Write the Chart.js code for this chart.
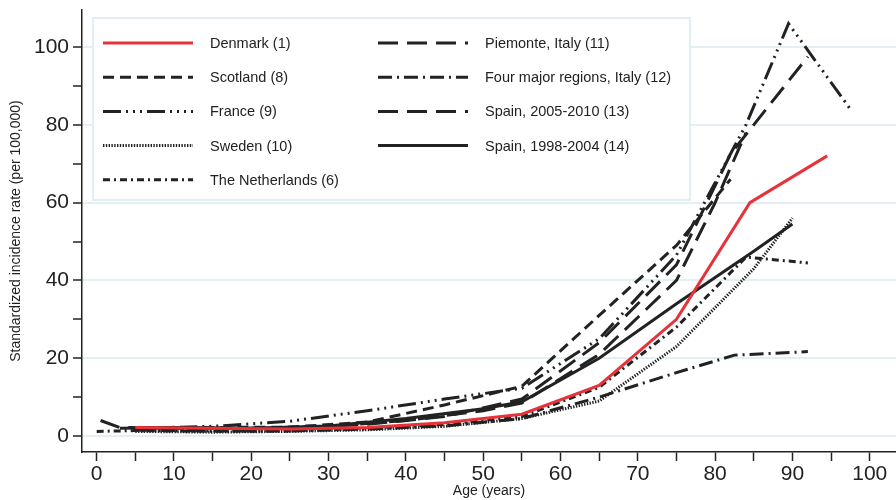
<!DOCTYPE html>
<html>
<head>
<meta charset="utf-8">
<script src="https://cdn.jsdelivr.net/npm/chart.js@4.4.0/dist/chart.umd.min.js"></script>
<style>
  html, body { margin: 0; padding: 0; background: #fff; }
</style>
</head>
<body>
<canvas id="myChart" width="896" height="500"></canvas>
<script>
// age (years) and standardized incidence rate (per 100,000) per registry
const denmarkAge = [5, 15, 25, 35, 45, 55, 65, 75, 84.5, 94.5];
const denmarkRate = [2.2, 2.0, 1.8, 2.2, 3.4, 5.6, 13, 30, 60, 72];

const scotlandAge = [5, 15, 25, 35, 45, 55, 65, 75, 82];
const scotlandRate = [2.0, 2.2, 2.3, 3.6, 8.0, 12.8, 31, 49, 66];

const franceAge = [5, 15, 25, 35, 45, 55, 65, 75, 84, 89.5, 97.5];
const franceRate = [2.0, 2.5, 3.8, 6.5, 9.5, 12.3, 25, 46.5, 80, 106, 84];

const swedenAge = [5, 15, 25, 35, 45, 55, 65, 75, 85, 90];
const swedenRate = [1.2, 1.0, 1.2, 1.6, 2.5, 4.5, 9.0, 23, 43, 56];

const netherlandsAge = [0, 5, 15, 25, 35, 45, 55, 65, 75, 84, 92];
const netherlandsRate = [1.2, 1.4, 1.2, 1.3, 2.0, 3.0, 5.0, 12.5, 28, 46, 44.5];

const piemonteAge = [5, 15, 25, 35, 45, 55, 65, 75, 82, 92];
const piemonteRate = [2.0, 2.0, 2.0, 3.0, 5.0, 9.5, 24, 44, 72.5, 97.5];

const fourRegionsAge = [5, 15, 25, 35, 45, 55, 65, 75, 82.5, 92];
const fourRegionsRate = [1.5, 1.3, 1.3, 1.8, 2.6, 4.5, 10, 16.3, 20.8, 21.7];

const spain0510Age = [0.5, 3, 10, 20, 30, 40, 50, 55, 65, 75, 80, 84];
const spain0510Rate = [4.0, 2.2, 2.0, 2.0, 2.5, 4.0, 6.5, 8.5, 21, 40, 60, 78];

const spain9804Age = [3, 10, 20, 30, 40, 50, 55, 65, 75, 85, 90];
const spain9804Rate = [2.0, 2.2, 2.0, 2.6, 4.5, 7.0, 8.8, 20, 34, 47.5, 54.5];

const xTickValues = [0, 5, 10, 15, 20, 25, 30, 35, 40, 45, 50, 55, 60, 65, 70, 75, 80, 85, 90, 95, 100];
const yTickValues = [0, 10, 20, 30, 40, 50, 60, 70, 80, 90, 100];

const INK = '#222';
const FONT = "'Liberation Sans', Arial, sans-serif";

function pts(ages, rates) {
  return ages.map((a, i) => ({ x: a, y: rates[i] }));
}

function series(label, ages, rates, color, dash, width) {
  return {
    label: label,
    data: pts(ages, rates),
    borderColor: color,
    borderWidth: width || 3,
    borderDash: dash,
    borderCapStyle: 'butt',
    pointRadius: 0,
    tension: 0,
    fill: false
  };
}

// legend drawn as a two column box, like the original figure
const legendBox = {
  id: 'legendBox',
  beforeDatasetsDraw(chart) {
    const ctx = chart.ctx;
    ctx.save();
    ctx.fillStyle = '#fff';
    ctx.fillRect(93, 18, 597, 182);
    ctx.strokeStyle = '#e2eef2';
    ctx.lineWidth = 2;
    ctx.strokeRect(93, 18, 597, 182);
    ctx.font = '14.5px ' + FONT;
    ctx.textBaseline = 'middle';
    chart.data.datasets.forEach((ds, i) => {
      const col = i < 5 ? 0 : 1;
      const row = i < 5 ? i : i - 5;
      const x0 = col === 0 ? 103 : 378;
      const y = 43 + row * 34.2;
      ctx.beginPath();
      ctx.setLineDash(ds.borderDash || []);
      ctx.lineWidth = ds.borderWidth;
      ctx.strokeStyle = ds.borderColor;
      ctx.lineCap = 'butt';
      ctx.moveTo(x0, y);
      ctx.lineTo(x0 + 90, y);
      ctx.stroke();
      ctx.setLineDash([]);
      ctx.fillStyle = INK;
      ctx.fillText(ds.label, x0 + 107, y + 1);
    });
    ctx.restore();
  }
};

const ctx = document.getElementById('myChart').getContext('2d');
const chart = new Chart(ctx, {
  type: 'line',
  data: {
    datasets: [
      series('Denmark (1)', denmarkAge, denmarkRate, '#e8323a', []),
      series('Scotland (8)', scotlandAge, scotlandRate, INK, [11, 6]),
      series('France (9)', franceAge, franceRate, INK, [18, 5, 2, 5, 2, 5, 2, 5]),
      series('Sweden (10)', swedenAge, swedenRate, INK, [1.4, 1.4]),
      series('The Netherlands (6)', netherlandsAge, netherlandsRate, INK, [7, 4, 2, 4]),
      series('Piemonte, Italy (11)', piemonteAge, piemonteRate, INK, [20, 9]),
      series('Four major regions, Italy (12)', fourRegionsAge, fourRegionsRate, INK, [14, 5, 2, 5]),
      series('Spain, 2005-2010 (13)', spain0510Age, spain0510Rate, INK, [20, 9]),
      series('Spain, 1998-2004 (14)', spain9804Age, spain9804Rate, INK, [])
    ]
  },
  options: {
    responsive: false,
    animation: false,
    layout: { padding: { top: 10, left: 0, right: 0, bottom: 0 } },
    plugins: {
      legend: { display: false },
      tooltip: { enabled: false }
    },
    scales: {
      x: {
        type: 'linear',
        min: -1.9,
        max: 103.4,
        afterBuildTicks: (scale) => { scale.ticks = xTickValues.map(v => ({ value: v })); },
        afterFit: (scale) => {
          scale.height = 48;
          scale.paddingLeft = 0;
          scale.paddingRight = 0;
        },
        border: { display: true, color: INK, width: 1.5 },
        grid: { drawOnChartArea: false, drawTicks: true, tickLength: 9, tickColor: INK, tickWidth: 1.5 },
        ticks: {
          autoSkip: false,
          maxRotation: 0,
          padding: 1,
          color: INK,
          font: { family: FONT, size: 21 },
          callback: (v) => (v % 10 === 0 ? v : '')
        },
        title: {
          display: true,
          text: 'Age (years)',
          color: INK,
          font: { family: FONT, size: 14 },
          padding: { top: 0, bottom: 0 }
        }
      },
      y: {
        type: 'linear',
        min: -4.1,
        max: 109.5,
        afterBuildTicks: (scale) => { scale.ticks = yTickValues.map(v => ({ value: v })); },
        afterFit: (scale) => {
          scale.width = 82;
          scale.paddingTop = 0;
          scale.paddingBottom = 0;
        },
        border: { display: true, color: INK, width: 1.5 },
        grid: {
          color: (c) => (c.tick && c.tick.value % 20 === 0 ? '#e4eff3' : 'rgba(0,0,0,0)'),
          lineWidth: 2,
          drawTicks: true,
          tickLength: 9,
          tickColor: INK,
          tickWidth: 1.5
        },
        ticks: {
          autoSkip: false,
          padding: 4,
          color: INK,
          font: { family: FONT, size: 21 },
          callback: (v) => (v % 20 === 0 ? v : '')
        },
        title: {
          display: true,
          text: 'Standardized incidence rate (per 100,000)',
          color: INK,
          font: { family: FONT, size: 14 },
          padding: { top: 8, bottom: 0 }
        }
      }
    }
  },
  plugins: [legendBox]
});
</script>
</body>
</html>
